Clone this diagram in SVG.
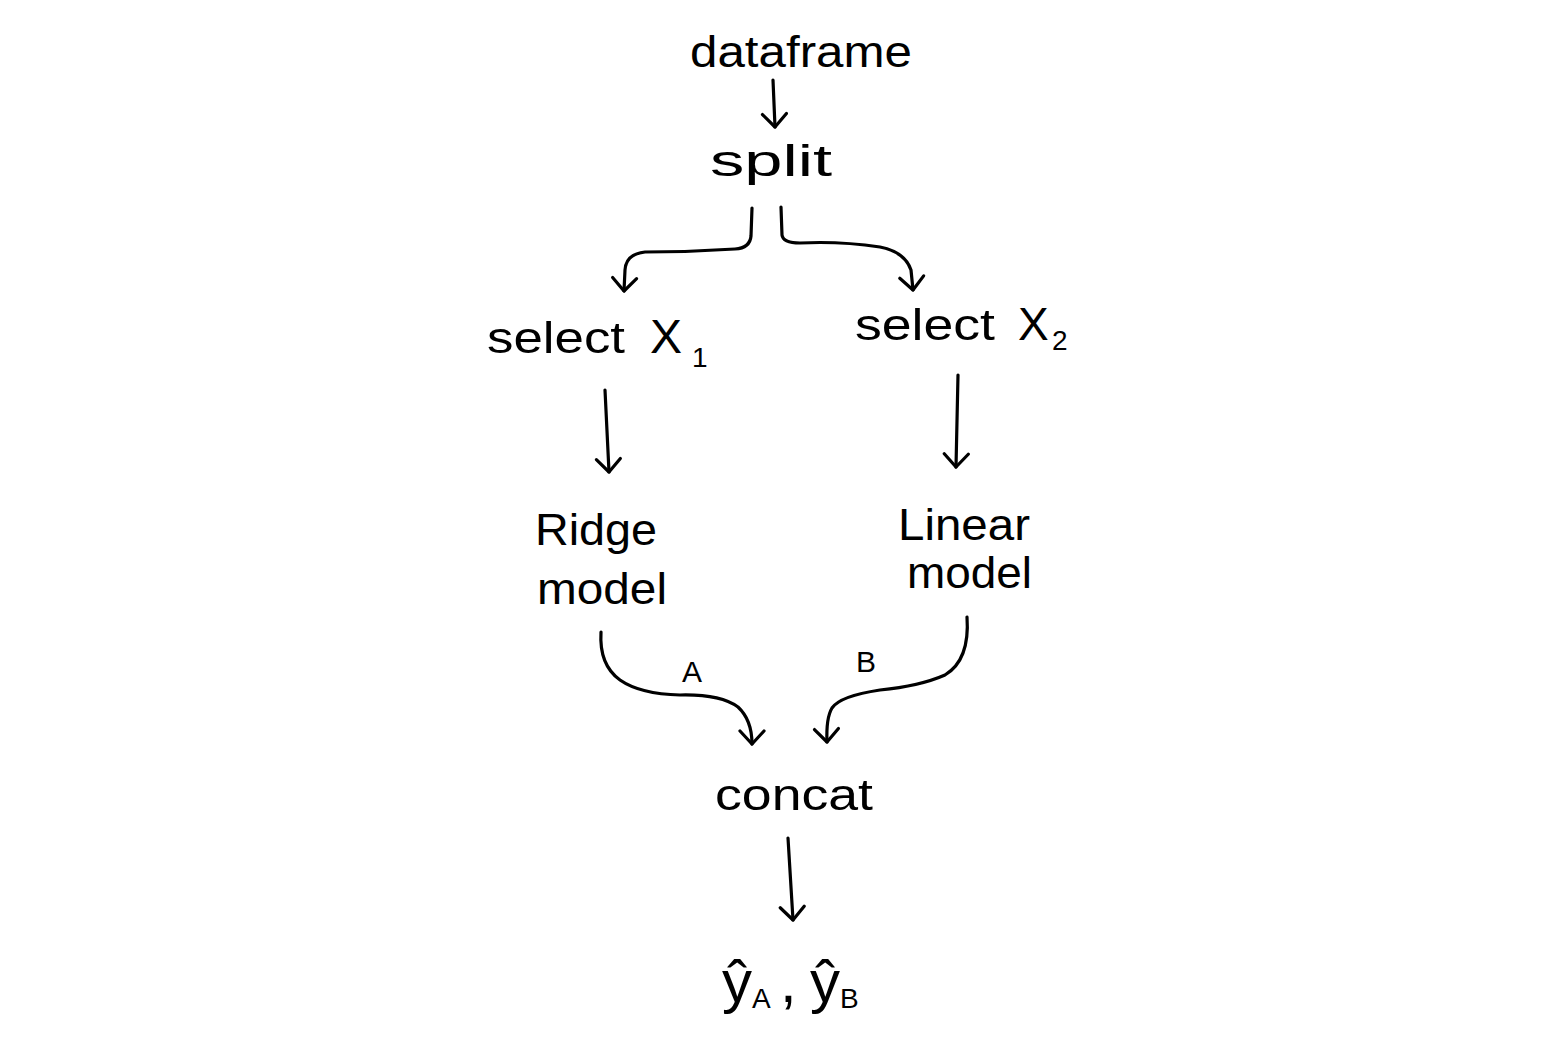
<svg xmlns="http://www.w3.org/2000/svg" width="1546" height="1044" viewBox="0 0 1546 1044">
<style>
.t{font-family:"Liberation Sans","DejaVu Sans",sans-serif;font-size:44px;fill:#000}
.s{font-size:28px}
.lbl{font-family:"Liberation Sans","DejaVu Sans",sans-serif;font-size:30px;fill:#000}
.c{fill:none;stroke:#000;stroke-width:3.2;stroke-linecap:round;stroke-linejoin:round}
</style>
<defs>
<marker id="v" viewBox="-16 -14 20 28" refX="0" refY="0" markerWidth="20" markerHeight="28" markerUnits="userSpaceOnUse" orient="auto">
<path d="M-13,-12 L0,0 L-13,12" fill="none" stroke="#000" stroke-width="3.2" stroke-linecap="round" stroke-linejoin="round"/>
</marker>
</defs>
<rect width="1546" height="1044" fill="#fff"/>
<g id="connectors">
<path class="c" marker-end="url(#v)" d="M773,80 L775,127"/>
<path class="c" marker-end="url(#v)" d="M752,208 L751,236 Q750,248 735,249 Q690,252 645,252 Q626,254 625,270 L624,291"/>
<path class="c" marker-end="url(#v)" d="M781,207 L782,235 Q783,243 800,243 Q840,241 880,247 Q905,252 911,270 L913,290"/>
<path class="c" marker-end="url(#v)" d="M605,390 L609,472"/>
<path class="c" marker-end="url(#v)" d="M958,375 L956,467"/>
<path class="c" marker-end="url(#v)" d="M601,632 Q599,665 620,680 Q640,694 680,695 Q720,694 738,707 Q752,720 752,744"/>
<path class="c" marker-end="url(#v)" d="M967,617 Q970,660 945,675 Q920,686 880,690 Q840,696 832,708 Q826,718 827,742"/>
<path class="c" marker-end="url(#v)" d="M788,838 L793,920"/>
<text class="lbl" x="692" y="682" text-anchor="middle">A</text>
<text class="lbl" x="866" y="672" text-anchor="middle">B</text>
</g>
<g id="node-dataframe"><text class="t" x="690" y="67" textLength="222" lengthAdjust="spacingAndGlyphs">dataframe</text></g>
<g id="node-split"><text class="t" x="710" y="176" textLength="122" lengthAdjust="spacingAndGlyphs">split</text></g>
<g id="node-select1"><text class="t" x="487" y="353"><tspan textLength="138" lengthAdjust="spacingAndGlyphs">select</tspan><tspan x="650" style="font-size:48px">X</tspan><tspan class="s" x="692" dy="14">1</tspan></text></g>
<g id="node-select2"><text class="t" x="855" y="340"><tspan textLength="140" lengthAdjust="spacingAndGlyphs">select</tspan><tspan x="1018" style="font-size:46px">X</tspan><tspan class="s" x="1052" dy="10">2</tspan></text></g>
<g id="node-ridge"><text class="t" x="535" y="545" textLength="122" lengthAdjust="spacingAndGlyphs">Ridge</text><text class="t" x="537" y="604" textLength="130" lengthAdjust="spacingAndGlyphs">model</text></g>
<g id="node-linear"><text class="t" x="898" y="540" textLength="132" lengthAdjust="spacingAndGlyphs">Linear</text><text class="t" x="907" y="588" textLength="125" lengthAdjust="spacingAndGlyphs">model</text></g>
<g id="node-concat"><text class="t" x="715" y="810" textLength="158" lengthAdjust="spacingAndGlyphs">concat</text></g>
<g id="node-output"><text class="t" x="722" y="1002" style="font-size:60px">ŷ<tspan class="s" x="752" dy="6">A</tspan><tspan x="780" dy="-6">,</tspan><tspan x="810">ŷ</tspan><tspan class="s" x="840" dy="6">B</tspan></text></g>
</svg>
